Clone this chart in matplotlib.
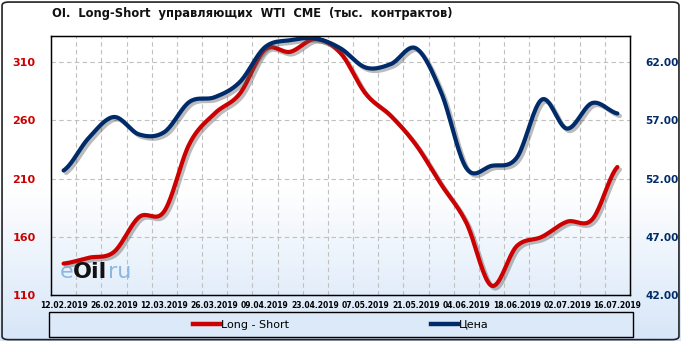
import numpy as np
import matplotlib
matplotlib.use("Agg")
import matplotlib.pyplot as plt
import matplotlib.patheffects as pe
from matplotlib.patches import Rectangle, FancyBboxPatch
from matplotlib.lines import Line2D

# weekly dates (category axis), every second one is labelled
dates = ["12.02.2019", "19.02.2019", "26.02.2019", "05.03.2019", "12.03.2019", "19.03.2019",
         "26.03.2019", "02.04.2019", "09.04.2019", "16.04.2019", "23.04.2019", "30.04.2019",
         "07.05.2019", "14.05.2019", "21.05.2019", "28.05.2019", "04.06.2019", "11.06.2019",
         "18.06.2019", "25.06.2019", "02.07.2019", "09.07.2019", "16.07.2019"]
long_short = [137, 142, 147, 177, 182, 240, 266, 283, 321, 319, 330, 318,
              283, 264, 239, 205, 172, 118, 152, 160, 173, 175, 220]
price = [52.7, 55.5, 57.3, 55.8, 56.0, 58.6, 59.0, 60.3, 63.3, 63.9, 64.05, 63.2,
         61.55, 61.85, 63.2, 59.4, 52.9, 53.1, 53.8, 58.8, 56.3, 58.5, 57.6]
left_ticks = [110, 160, 210, 260, 310]
right_ticks = [42, 47, 52, 57, 62]

RED = "#cc0000"
BLUE = "#002b6b"


def smooth(x, y, n=20):
    # excel-like smoothed line (uniform catmull-rom through the points)
    x = np.asarray(x, float)
    y = np.asarray(y, float)
    px = np.concatenate([[2 * x[0] - x[1]], x, [2 * x[-1] - x[-2]]])
    py = np.concatenate([[y[0]], y, [y[-1]]])
    t = np.linspace(0, 1, n, endpoint=False)
    xs, ys = [], []
    for i in range(1, len(px) - 2):
        for p, out in ((px, xs), (py, ys)):
            p0, p1, p2, p3 = p[i - 1], p[i], p[i + 1], p[i + 2]
            out.extend(0.5 * ((2 * p1) + (-p0 + p2) * t + (2 * p0 - 5 * p1 + 4 * p2 - p3) * t ** 2
                              + (-p0 + 3 * p1 - 3 * p2 + p3) * t ** 3))
    xs.append(x[-1])
    ys.append(y[-1])
    return np.array(xs), np.array(ys)


fig = plt.figure(figsize=(6.81, 3.41), dpi=100)

# background gradient: white on top, light blue at the bottom
bg = fig.add_axes([0, 0, 1, 1], zorder=-10)
f = np.linspace(0, 1, 200)[:, None]
w = np.clip((0.45 - f) / 0.45, 0, 1)
top = np.array([1.0, 1.0, 1.0])
bot = np.array([0xd6, 0xe6, 0xf8]) / 255
img = (1 - w)[..., None] * top + w[..., None] * bot
bg.imshow(np.repeat(img, 2, axis=1), aspect="auto", origin="lower", extent=[0, 1, 0, 1])
bg.set_axis_off()
fig.patches.append(FancyBboxPatch((0.003, 0.004), 0.994, 0.99, boxstyle="round,pad=0,rounding_size=0.01",
                                  transform=fig.transFigure, fill=False, edgecolor="#222222", lw=1.2))

ax = fig.add_axes([51 / 681, 1 - 295 / 341, 579 / 681, 259 / 341])
ax.set_facecolor("none")
x = np.arange(len(dates))
shadow = [pe.SimpleLineShadow(offset=(1.8, -1.8), shadow_color="#555555", alpha=0.4), pe.Normal()]

sx, sy = smooth(x, long_short)
ax.plot(sx, sy, color=RED, lw=3.0, solid_capstyle="round", path_effects=shadow)
ax.set_xlim(-0.5, len(dates) - 0.5)
ax.set_ylim(110, 332.6)
ax.set_yticks(left_ticks)
ax.set_yticklabels([str(v) for v in left_ticks], color=RED, fontsize=8, fontweight="bold")
ax.set_xticks(x[::2])
ax.set_xticklabels(dates[::2], fontsize=5.5, fontweight="bold")
ax.set_xticks(x[:-1] + 0.5, minor=True)
ax.tick_params(which="both", length=0)
ax.tick_params(axis="y", pad=11)
ax.tick_params(axis="x", pad=4)
ax.grid(axis="y", which="major", color="#c0c0c0", ls=(0, (4, 3)), lw=0.8)
ax.grid(axis="x", which="minor", color="#c0c0c0", ls=(0, (4, 3)), lw=0.8)
for s in ax.spines.values():
    s.set_color("black")
    s.set_linewidth(1.0)

ax2 = ax.twinx()
sx, sy = smooth(x, price)
ax2.plot(sx, sy, color=BLUE, lw=3.0, solid_capstyle="round", path_effects=shadow)
ax2.set_ylim(42, 64.26)
ax2.set_yticks(right_ticks)
ax2.set_yticklabels(["%.2f" % v for v in right_ticks], color=BLUE, fontsize=7.6, fontweight="bold")
ax2.tick_params(length=0, pad=11)

# eOil.ru watermark
wm = dict(transform=ax.transAxes, fontsize=16, va="center")
ax.text(0.015, 0.09, "e", color="#7fb2e0", alpha=0.9, **wm)
ax.text(0.037, 0.09, "Oil", color="#111111", fontweight="bold", **wm)
ax.text(0.099, 0.09, "ru", color="#7fb2e0", alpha=0.9, **wm)

fig.text(52 / 681, 1 - 14 / 341, "OI.  Long-Short  управляющих  WTI  CME  (тыс.  контрактов)",
         fontsize=8.3, fontweight="bold", ha="left", va="center", color="#111111")

# legend box
fig.patches.append(Rectangle((49 / 681, 1 - 337 / 341), 584 / 681, 25 / 341, transform=fig.transFigure,
                             facecolor="#dce9f8", edgecolor="black", lw=1.0))
handles = [Line2D([], [], color=RED, lw=3.2), Line2D([], [], color=BLUE, lw=3.2)]
fig.legend(handles, ["Long - Short", "Цена"], loc="center", bbox_to_anchor=(341 / 681, 1 - 324.5 / 341),
           ncol=2, frameon=False, fontsize=8, handlelength=2.4, handletextpad=0.1, columnspacing=12.8)

fig.savefig("out.png", dpi=100)
